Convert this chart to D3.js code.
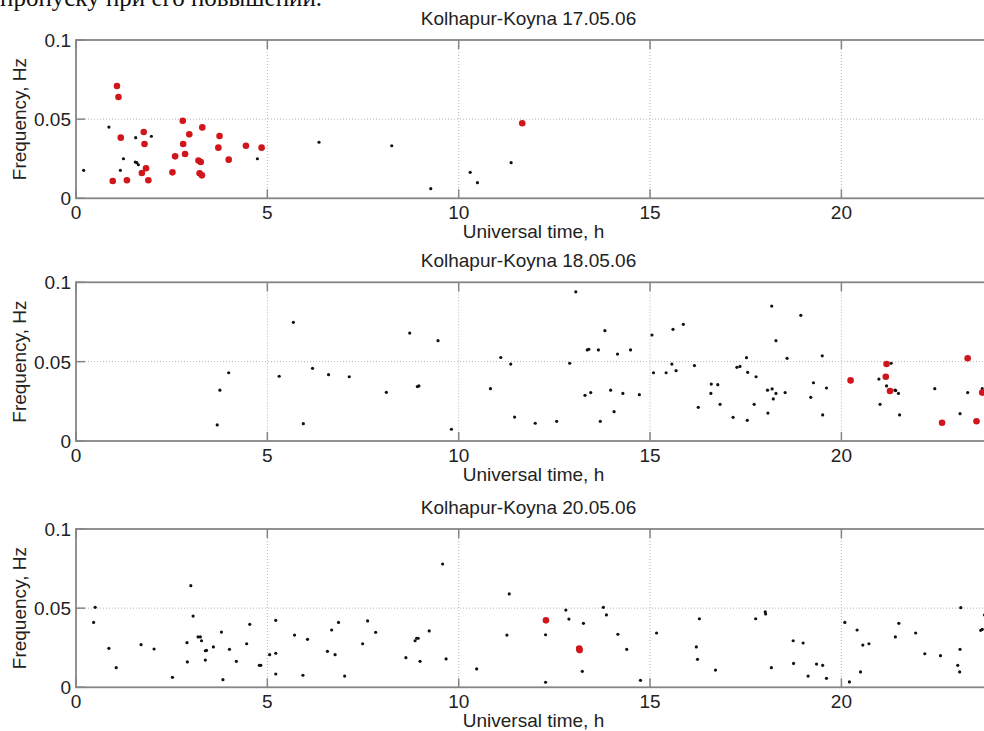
<!DOCTYPE html>
<html>
<head>
<meta charset="utf-8">
<script src="https://cdn.jsdelivr.net/npm/d3@7"></script>
<style>
	body { margin: 0; background: #fff; }
	svg { display: block; font-family: 'Liberation Sans', Arial, sans-serif; }
	.frame { fill: none; stroke: #858585; stroke-width: 1.8; }
	.tick-line { stroke: #858585; stroke-width: 1.5; }
	.grid { stroke: #b4b4b4; stroke-width: 1; stroke-dasharray: 1 2; }
	.lbl { font-size: 19px; fill: #222; }
</style>
</head>
<body>
<svg id="chart" width="984" height="731"></svg>
<script>
// [time h, frequency Hz]
const day17Black = [
	[0.20, 0.0177], [0.86, 0.045], [1.24, 0.025], [1.16, 0.0177], [1.56, 0.0383],
	[1.55, 0.0229], [1.59, 0.0225], [1.63, 0.0212], [1.97, 0.0392], [4.74, 0.025],
	[6.35, 0.0354], [8.25, 0.0332], [9.27, 0.0061], [10.30, 0.0164], [10.49, 0.0099],
	[11.37, 0.0225]
]
const day17Red = [
	[1.07, 0.0709], [1.11, 0.064], [1.17, 0.0383], [0.96, 0.0109], [1.33, 0.0114],
	[1.77, 0.0419], [1.79, 0.0343], [1.83, 0.019], [1.72, 0.016], [1.89, 0.0114],
	[2.79, 0.049], [2.96, 0.0404], [2.80, 0.0343], [2.59, 0.0265], [2.85, 0.028],
	[2.52, 0.0164], [3.30, 0.0448], [3.20, 0.0238], [3.26, 0.0229], [3.23, 0.0158],
	[3.29, 0.0145], [3.75, 0.0394], [3.72, 0.032], [3.99, 0.0244], [4.44, 0.0332],
	[4.85, 0.032], [11.66, 0.0474]
]

const day18Black = [
	[3.69, 0.0101], [3.76, 0.032], [3.99, 0.043], [5.31, 0.0408], [5.68, 0.0748],
	[5.94, 0.0109], [6.18, 0.0458], [6.60, 0.0418], [7.14, 0.0405], [8.11, 0.0307],
	[8.72, 0.068], [8.92, 0.0343], [8.96, 0.0347], [9.46, 0.0632], [9.81, 0.0074],
	[10.83, 0.033], [11.10, 0.0526], [11.36, 0.0485], [11.46, 0.0151], [12.00, 0.0112],
	[12.56, 0.0124], [12.90, 0.049], [13.06, 0.094], [13.30, 0.0288], [13.45, 0.0305],
	[13.36, 0.0574], [13.40, 0.0578], [13.65, 0.0574], [13.70, 0.0124], [13.82, 0.0695],
	[13.97, 0.032], [14.06, 0.0185], [14.15, 0.0548], [14.29, 0.030], [14.49, 0.0574],
	[14.72, 0.0292], [15.05, 0.0668], [15.09, 0.043], [15.42, 0.043], [15.57, 0.0485],
	[15.68, 0.0443], [15.60, 0.0704], [15.87, 0.0735], [16.16, 0.0475], [16.26, 0.0212],
	[16.60, 0.0359], [16.77, 0.0355], [16.59, 0.030], [16.83, 0.0231], [17.17, 0.0149],
	[17.27, 0.0464], [17.35, 0.047], [17.52, 0.0525], [17.55, 0.0433], [17.54, 0.013],
	[17.72, 0.0231], [17.77, 0.0405], [18.08, 0.0176], [18.07, 0.032], [18.19, 0.0328],
	[18.18, 0.085], [18.22, 0.0265], [18.29, 0.0632], [18.29, 0.030], [18.53, 0.0305],
	[18.58, 0.0521], [18.94, 0.0792], [19.20, 0.0275], [19.27, 0.0367], [19.50, 0.0537],
	[19.51, 0.0164], [19.61, 0.0334], [20.98, 0.039], [21.01, 0.0231], [21.18, 0.0347],
	[21.30, 0.049], [21.40, 0.032], [21.42, 0.0318], [21.49, 0.030], [21.52, 0.0164],
	[22.44, 0.033], [23.10, 0.0172], [23.30, 0.0305], [23.68, 0.033]
]
const day18Red = [
	[20.24, 0.0382], [21.18, 0.0485], [21.16, 0.0405], [21.27, 0.0315], [22.63, 0.0115],
	[23.30, 0.0521], [23.53, 0.0124], [23.68, 0.0305]
]

const day20Black = [
	[0.50, 0.0505], [0.46, 0.041], [0.86, 0.0246], [1.05, 0.0124], [1.70, 0.0269],
	[2.04, 0.0242], [2.52, 0.0063], [2.90, 0.0282], [2.91, 0.016], [3.00, 0.0642],
	[3.06, 0.045], [3.19, 0.0318], [3.25, 0.0318], [3.28, 0.0294], [3.38, 0.0231],
	[3.41, 0.0233], [3.38, 0.0172], [3.59, 0.0255], [3.80, 0.0349], [3.84, 0.0048],
	[4.01, 0.024], [4.19, 0.0164], [4.46, 0.0275], [4.54, 0.0398], [4.79, 0.0139],
	[4.83, 0.0139], [5.06, 0.0206], [5.22, 0.0423], [5.22, 0.0215], [5.22, 0.0084],
	[5.71, 0.033], [5.93, 0.0076], [6.05, 0.0303], [6.57, 0.0227], [6.68, 0.0362],
	[6.77, 0.0206], [6.86, 0.041], [7.02, 0.0071], [7.49, 0.0275], [7.62, 0.0419],
	[7.83, 0.0347], [8.62, 0.0187], [8.86, 0.0294], [8.90, 0.031], [8.94, 0.031],
	[8.99, 0.0164], [9.23, 0.0356], [9.58, 0.0779], [9.67, 0.0179], [10.47, 0.0116],
	[11.32, 0.059], [11.26, 0.033], [12.27, 0.0332], [12.27, 0.0032], [12.80, 0.0488],
	[12.88, 0.0431], [13.26, 0.0404], [13.23, 0.0101], [13.78, 0.0505], [13.86, 0.0457],
	[14.16, 0.0335], [14.39, 0.024], [14.75, 0.0044], [15.17, 0.0343], [16.29, 0.0433],
	[16.21, 0.0255], [16.24, 0.0177], [16.71, 0.0109], [17.76, 0.0433], [18.01, 0.0476],
	[18.02, 0.0463], [18.17, 0.0124], [18.74, 0.0294], [19.00, 0.028], [18.75, 0.0151],
	[19.13, 0.0071], [19.35, 0.0147], [19.51, 0.0139], [19.61, 0.0057], [20.09, 0.041],
	[20.21, 0.0034], [20.41, 0.0362], [20.56, 0.0267], [20.72, 0.0275], [20.50, 0.0097],
	[21.41, 0.0318], [21.50, 0.0404], [21.94, 0.0343], [22.18, 0.0212], [22.59, 0.02],
	[23.12, 0.0503], [23.10, 0.024], [23.04, 0.0139], [23.09, 0.0097], [23.74, 0.0457],
	[23.64, 0.036], [23.68, 0.0366]
]
const day20Red = [
	[12.28, 0.0423], [13.15, 0.0244], [13.16, 0.0235]
]

const panelTitles = ['Kolhapur-Koyna 17.05.06', 'Kolhapur-Koyna 18.05.06', 'Kolhapur-Koyna 20.05.06']
const xTicks = [0, 5, 10, 15, 20]
const yTicks = [0, 0.05, 0.1]
const xLabel = 'Universal time, h'
const yLabel = 'Frequency, Hz'
const headText = 'пропуску при его повышении.'

const panels = [
	{ title: panelTitles[0], black: day17Black, red: day17Red, top: 40, bottom: 198.3 },
	{ title: panelTitles[1], black: day18Black, red: day18Red, top: 282.3, bottom: 441 },
	{ title: panelTitles[2], black: day20Black, red: day20Red, top: 529, bottom: 687.3 }
]

const left = 76
const pxPerHour = 38.27
const tickLen = 9

const svg = d3.select('#chart')

// line of body text above the figure, cut by the page top as in the scan
svg.append('text')
	.attr('x', 0)
	.attr('y', 6)
	.style('font-family', "'Liberation Serif', 'Times New Roman', serif")
	.style('font-size', '25px')
	.attr('fill', '#111')
	.text(headText)

const xScale = d3.scaleLinear()
	.domain([0, 24])
	.range([left, left + 24*pxPerHour])

const fmtY = d => d === 0 ? '0' : String(d)

panels.forEach(p => {

	const yScale = d3.scaleLinear()
		.domain([0, 0.1])
		.range([p.bottom, p.top])

	const g = svg.append('g')

	// grid
	g.selectAll('.gx')
		.data(xTicks.filter(d => d > 0))
		.enter()
		.append('line')
		.attr('class', 'grid')
		.attr('x1', d => xScale(d)).attr('x2', d => xScale(d))
		.attr('y1', p.top).attr('y2', p.bottom)

	g.append('line')
		.attr('class', 'grid')
		.attr('x1', xScale(0)).attr('x2', xScale(24))
		.attr('y1', yScale(0.05)).attr('y2', yScale(0.05))

	// frame
	g.append('rect')
		.attr('class', 'frame')
		.attr('x', xScale(0))
		.attr('y', p.top)
		.attr('width', xScale(24) - xScale(0))
		.attr('height', p.bottom - p.top)

	// inward ticks
	xTicks.forEach(t => {
		g.append('line').attr('class', 'tick-line')
			.attr('x1', xScale(t)).attr('x2', xScale(t))
			.attr('y1', p.bottom).attr('y2', p.bottom - tickLen)
		g.append('line').attr('class', 'tick-line')
			.attr('x1', xScale(t)).attr('x2', xScale(t))
			.attr('y1', p.top).attr('y2', p.top + tickLen)
	})
	yTicks.forEach(t => {
		g.append('line').attr('class', 'tick-line')
			.attr('x1', xScale(0)).attr('x2', xScale(0) + tickLen)
			.attr('y1', yScale(t)).attr('y2', yScale(t))
	})

	// tick labels
	g.selectAll('.xl')
		.data(xTicks)
		.enter()
		.append('text')
		.attr('class', 'lbl')
		.attr('x', d => xScale(d))
		.attr('y', p.bottom + 20.5)
		.attr('text-anchor', 'middle')
		.text(d => d)

	g.selectAll('.yl')
		.data(yTicks)
		.enter()
		.append('text')
		.attr('class', 'lbl')
		.attr('x', xScale(0) - 5)
		.attr('y', d => yScale(d) + 7)
		.attr('text-anchor', 'end')
		.text(fmtY)

	// axis labels and title
	g.append('text')
		.attr('class', 'lbl')
		.attr('x', 533.5)
		.attr('y', p.bottom + 39.5)
		.attr('text-anchor', 'middle')
		.text(xLabel)

	g.append('text')
		.attr('class', 'lbl')
		.attr('transform', `translate(26, ${(p.top + p.bottom)/2}) rotate(-90)`)
		.attr('text-anchor', 'middle')
		.text(yLabel)

	g.append('text')
		.attr('class', 'lbl')
		.attr('x', 528.5)
		.attr('y', p.top - 15)
		.attr('text-anchor', 'middle')
		.text(p.title)

	// points
	g.selectAll('.blk')
		.data(p.black)
		.enter()
		.append('circle')
		.attr('cx', d => xScale(d[0]))
		.attr('cy', d => yScale(d[1]))
		.attr('r', 1.6)
		.attr('fill', '#111')

	g.selectAll('.red')
		.data(p.red)
		.enter()
		.append('circle')
		.attr('cx', d => xScale(d[0]))
		.attr('cy', d => yScale(d[1]))
		.attr('r', 3.3)
		.attr('fill', '#d0161b')
})
</script>
</body>
</html>
